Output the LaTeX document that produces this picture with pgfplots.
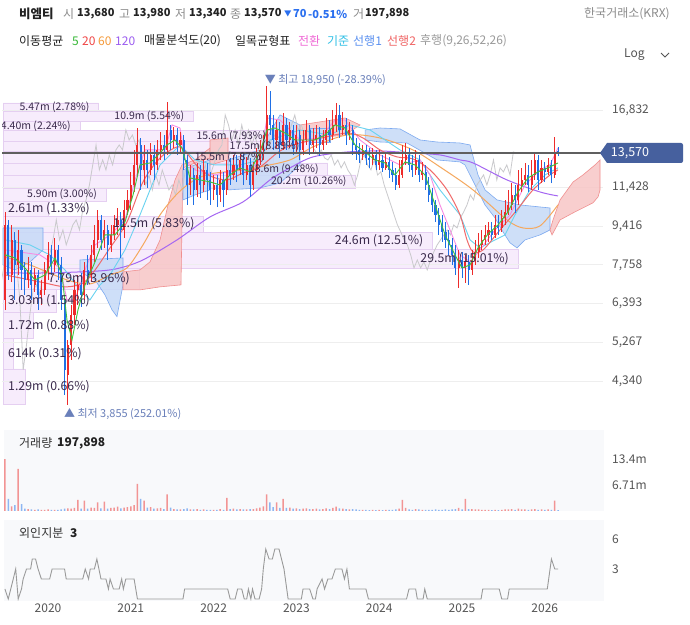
\documentclass[border=0pt]{standalone}
\usepackage{fontspec}
\setmainfont{Noto Sans CJK KR}
\usepackage{pgfplots}
\usepackage{pgfplotstable}
\pgfplotsset{compat=1.18}

\definecolor{upc}{HTML}{EE2B2B}
\definecolor{dnc}{HTML}{1F6FE5}
\definecolor{volup}{HTML}{F29494}
\definecolor{voldn}{HTML}{8DB6F2}
\definecolor{ma5}{HTML}{3CC23C}
\definecolor{ma20}{HTML}{F06A6A}
\definecolor{ma60}{HTML}{F5A85E}
\definecolor{ma120}{HTML}{A567F2}
\definecolor{conv}{HTML}{F78CE3}
\definecolor{basel}{HTML}{6AD3F0}
\definecolor{cloudb}{HTML}{C6DAF7}
\definecolor{cloudbe}{HTML}{7DAAF0}
\definecolor{cloudr}{HTML}{F7C6C6}
\definecolor{cloudre}{HTML}{F08F8F}
\definecolor{lagc}{HTML}{C9C9CC}
\definecolor{vpfill}{HTML}{F7ECFC}
\definecolor{vpedge}{HTML}{E5CFF1}
\definecolor{vptext}{HTML}{3A2A4C}
\definecolor{gridc}{HTML}{EEEEEE}
\definecolor{tickc}{HTML}{555555}
\definecolor{panelbg}{HTML}{F8F9FB}
\definecolor{curline}{HTML}{5F5F5F}
\definecolor{pricebox}{HTML}{46609E}
\definecolor{annc}{HTML}{6A80BA}
\definecolor{hdrgray}{HTML}{8C8C8C}
\definecolor{hdrdark}{HTML}{222222}
\definecolor{chgblue}{HTML}{2A6FEF}
\definecolor{forc}{HTML}{9A9A9A}

\newcommand\fs[1]{\fontsize{#1bp}{#1bp}\selectfont}

\pgfplotstableread{
x o h l c v
2019.48 6512 10110 6194 9473 13.4
2019.52 9473 9713 7200 7379 3.1
2019.56 7379 9473 7120 8789 1.2
2019.60 8789 9150 6512 7757 1.5
2019.64 7757 9239 7379 8360 10.9
2019.68 8360 8572 6846 7565 1.8
2019.72 7565 7874 6677 7196 0.6
2019.76 7196 8050 6915 7565 0.5
2019.80 7565 7874 6512 7019 0.4
2019.84 7019 7640 6780 7379 0.3
2019.88 7379 7565 6194 6677 0.4
2019.92 6677 7196 6351 6846 0.3
2019.96 6846 7874 6677 7565 0.3
2020.00 7565 8700 7196 8154 0.4
2020.04 8154 8572 7379 7757 0.3
2020.08 7757 8880 7490 8360 0.3
2020.12 8360 8572 7196 7757 0.3
2020.16 7757 8050 6194 6512 0.4
2020.20 6512 6677 4050 4589 0.6
2020.24 4476 5332 3855 5200 0.7
2020.28 5200 6351 4825 6041 0.6
2020.32 6041 7196 5747 6846 0.8
2020.36 6846 7379 6351 7019 2.9
2020.40 7019 7450 6290 6677 0.6
2020.44 6677 7874 6512 7565 2.7
2020.48 7565 8154 7019 7379 0.6
2020.52 7379 8572 7120 8154 0.9
2020.56 8154 9473 7874 8789 0.8
2020.60 8789 10211 8445 9713 2.2
2020.64 9713 9959 8360 8789 0.7
2020.68 8789 9713 8445 9239 2.4
2020.72 9239 9473 7953 8572 0.6
2020.76 8572 9473 8280 9011 0.8
2020.80 9011 9959 8789 9473 0.9
2020.84 9473 10310 9011 9713 1.1
2020.88 9713 10110 8040 9239 0.7
2020.92 9239 10734 8880 10211 0.9
2020.96 10211 11284 9959 10734 1.0
2021.00 10734 12350 10211 11570 1.2
2021.04 11570 13782 11170 12786 1.5
2021.08 12786 15380 12163 14130 7.0
2021.12 14130 14640 11284 12471 3.1
2021.16 12471 14130 11570 13110 2.7
2021.20 13110 13782 11400 12471 0.9
2021.24 12471 14270 12163 13442 1.0
2021.28 13442 14130 11863 12786 0.6
2021.32 12786 14488 12471 13782 0.7
2021.36 13782 15080 13110 14130 0.8
2021.40 14130 14854 13110 13782 0.5
2021.44 13782 17520 13442 15230 4.3
2021.48 15230 15616 13782 14488 0.9
2021.52 14488 15460 13920 14854 0.5
2021.56 14854 15380 13442 14130 0.4
2021.60 14130 15080 13570 14488 0.4
2021.64 14488 14854 12471 13110 0.5
2021.68 13110 13442 10469 11570 0.7
2021.72 11570 12786 11006 12163 0.4
2021.76 12163 12600 10469 11284 0.4
2021.80 11284 12915 10900 12163 0.5
2021.84 12163 12786 10840 11570 0.3
2021.88 11570 13110 11170 12471 0.4
2021.92 12471 12915 10734 11863 0.3
2021.96 11863 12350 10469 11284 0.3
2022.00 11284 12163 10734 11570 0.3
2022.04 11570 12163 10360 11006 0.3
2022.08 11006 12471 10630 11863 0.5
2022.12 11863 12350 10360 11284 0.3
2022.16 11284 13110 11006 12471 3.4
2022.20 12471 13240 11570 12163 0.5
2022.24 12163 13442 11863 12786 0.6
2022.28 12786 13442 11740 12471 0.4
2022.32 12471 13580 12163 13110 0.5
2022.36 13110 13580 11570 12163 0.4
2022.40 12163 13290 11863 12786 0.4
2022.44 12786 13240 10900 11570 0.5
2022.48 11570 12980 11284 12471 0.5
2022.52 12471 13920 12163 13110 0.7
2022.56 13110 14488 12786 13782 0.9
2022.60 13782 14854 13110 14130 1.2
2022.64 14130 18950 13782 16416 4.3
2022.68 16416 18500 14854 15616 2.2
2022.72 15616 16416 13782 14488 1.0
2022.76 14488 16011 13920 15230 2.2
2022.80 15230 15850 13240 14130 0.8
2022.84 14130 16580 13782 15616 3.1
2022.88 15616 16180 13782 14488 0.8
2022.92 14488 15850 13920 15230 0.9
2022.96 15230 15616 13442 14130 0.6
2023.00 14130 15616 13650 14854 0.7
2023.04 14854 15230 13110 13782 0.5
2023.08 13782 15230 13442 14488 0.6
2023.12 14488 16011 14130 15230 0.7
2023.16 15230 15616 13442 14130 0.5
2023.20 14130 15380 13650 14488 0.5
2023.24 14488 15616 13920 14854 0.6
2023.28 14854 15460 13370 14130 0.4
2023.32 14130 15230 13782 14488 0.5
2023.36 14488 16180 14130 15230 0.7
2023.40 15230 16011 14340 14854 0.5
2023.44 14854 16832 14488 15616 0.8
2023.48 15616 17430 15080 16416 1.1
2023.52 16416 17258 14640 15230 0.7
2023.56 15230 16660 14854 15616 0.6
2023.60 15616 16180 14130 14854 0.5
2023.64 14854 15850 14488 15230 0.4
2023.68 15230 15616 13442 14130 0.5
2023.72 14130 14640 13110 13782 0.4
2023.76 13782 14270 12915 13442 0.3
2023.80 13442 14130 13110 13782 0.3
2023.84 13782 14130 12786 13240 0.3
2023.88 13240 13920 12600 13110 0.2
2023.92 13110 13920 12786 13442 0.3
2023.96 13442 13782 12471 12786 0.2
2024.00 12786 13782 12471 13110 0.3
2024.04 13110 13442 12350 12600 0.2
2024.08 12600 13650 12471 12980 0.3
2024.12 12980 13310 11980 12471 0.3
2024.16 12471 12980 11740 12163 0.3
2024.20 12163 12600 11284 11570 0.4
2024.24 11570 13110 11400 12163 0.6
2024.28 12163 14130 11980 13110 2.9
2024.32 13110 14270 12786 13442 0.8
2024.36 13442 13920 12350 12786 0.4
2024.40 12786 13442 12040 12471 0.3
2024.44 12471 13782 12163 13110 0.5
2024.48 13110 13442 11740 12163 0.4
2024.52 12163 12980 11863 12350 0.3
2024.56 12350 12786 11284 11570 0.3
2024.60 11570 12040 10630 11006 0.3
2024.64 11006 11400 10110 10469 0.3
2024.68 10469 10734 9617 9959 0.4
2024.72 9959 10310 9011 9473 0.3
2024.76 9473 9959 8700 9150 0.3
2024.80 9150 9617 8445 8789 0.4
2024.84 8789 9239 8154 8572 0.3
2024.88 8572 8880 7757 8154 0.4
2024.92 8154 8572 7379 7640 0.5
2024.96 7640 8360 6915 7953 0.8
2025.00 7953 8280 7270 7640 0.4
2025.04 7640 8154 7090 7874 3.1
2025.08 7874 8154 7019 7565 0.5
2025.12 7565 8360 7379 7953 0.5
2025.16 7953 8789 7757 8280 0.4
2025.20 8280 9100 8030 8572 0.4
2025.24 8572 9239 8360 8789 0.3
2025.28 8789 9473 8572 9011 0.3
2025.32 9011 9617 8700 9239 0.3
2025.36 9239 9617 8789 9011 0.2
2025.40 9011 9959 8880 9473 0.3
2025.44 9473 9959 9011 9330 0.2
2025.48 9330 10211 9150 9810 0.3
2025.52 9810 10734 9473 10110 0.4
2025.56 10110 11284 9959 10469 0.4
2025.60 10469 11680 10211 11006 0.5
2025.64 11006 11570 10060 10734 0.3
2025.68 10734 12471 10469 11570 0.6
2025.72 11570 12600 11170 11863 0.4
2025.76 11863 12915 11570 12163 0.4
2025.80 12163 12786 11170 11570 0.3
2025.84 11570 13110 11284 12163 0.4
2025.88 12163 13580 11863 13110 0.5
2025.92 13110 13442 11284 11863 0.3
2025.96 11863 13110 11680 12600 0.4
2026.00 12600 12980 11740 12350 0.3
2026.04 12350 13240 12163 12786 0.4
2026.08 12786 13110 11680 12163 0.3
2026.12 12163 14700 11980 13640 2.7
2026.16 13680 13980 13340 13570 0.198
}\candles

\pgfplotstableread{
lo v
3855 1.29
4610 0.614
5365 1.72
6120 3.03
6874 7.79
7629 29.5
8384 24.6
9139 11.5
9894 2.61
10649 5.90
11404 20.2
12159 18.6
12914 15.5
13668 17.5
14423 15.6
15178 4.40
15933 10.9
16688 5.47
17443 0
}\vp

\tikzset{
  vplab/.style={text=vptext, inner sep=0pt},
  vpsmall/.style={vplab, font=\fs{10.5}},
  vpbig/.style={vplab, font=\fs{12.3}},
  cloudB/.style={fill=cloudb, fill opacity=0.85, draw=cloudbe, line width=0.6bp},
  cloudR/.style={fill=cloudr, fill opacity=0.85, draw=cloudre, line width=0.6bp},
  hdr/.style={anchor=west, inner sep=0pt, font=\fs{12}},
  hnum/.style={anchor=west, inner sep=0pt, font=\fs{11}\bfseries, text=hdrdark},
}

\begin{document}
\begin{tikzpicture}[x=1bp,y=1bp]
\path[use as bounding box] (0,0) rectangle (690,625);
\fill[white] (0,0) rectangle (690,625);

% header line 1
\node[hdr, text=hdrdark, font=\fs{12.5}\bfseries] at (19,611) {비엠티};
\node[hdr, text=hdrgray] at (63,611) {시};
\node[hnum] at (77,611) {13,680};
\node[hdr, text=hdrgray] at (119,611) {고};
\node[hnum] at (133,611) {13,980};
\node[hdr, text=hdrgray] at (175,611) {저};
\node[hnum] at (189,611) {13,340};
\node[hdr, text=hdrgray] at (230,611) {종};
\node[hnum] at (244,611) {13,570};
\node[hdr, text=chgblue, font=\fs{7.5}] at (284,611) {▼};
\node[hnum, text=chgblue] at (293,611) {70};
\node[hnum, text=chgblue] at (308,611) {-0.51\%};
\node[hdr, text=hdrgray] at (353,611) {거};
\node[hnum] at (365,611) {197,898};
\node[hdr, text=hdrgray] at (584,611) {한국거래소(KRX)};
% header line 2
\node[hdr, text=hdrdark] at (19,584) {이동평균};
\node[hdr, text={rgb,255:red,55;green,184;blue,55}] at (72,584) {5};
\node[hdr, text={rgb,255:red,240;green,69;blue,69}] at (82,584) {20};
\node[hdr, text={rgb,255:red,245;green,154;blue,58}] at (98,584) {60};
\node[hdr, text={rgb,255:red,155;green,92;blue,240}] at (115,584) {120};
\node[hdr, text=hdrdark] at (144,584) {매물분석도(20)};
\node[hdr, text=hdrdark] at (235,584) {일목균형표};
\node[hdr, text={rgb,255:red,240;green,106;blue,214}] at (298,584) {전환};
\node[hdr, text={rgb,255:red,48;green,192;blue,230}] at (327,584) {기준};
\node[hdr, text={rgb,255:red,90;green,144;blue,240}] at (353,584) {선행1};
\node[hdr, text={rgb,255:red,240;green,100;blue,100}] at (387,584) {선행2};
\node[hdr, text={rgb,255:red,154;green,154;blue,154}] at (420,584) {후행(9,26,52,26)};
\node[hdr, text=tickc] at (624,570) {Log};
\draw[tickc, line width=0.8bp] (661,572) -- (665,568) -- (669,572);

% volume profile bars
\begin{axis}[scale only axis, width=601bp, height=360bp, at={(2bp,200bp)}, anchor=south west,
  ymode=log, ymin=3484, ymax=21079, hide axis, xmin=-0.0573, xmax=34.364]
\addplot[xbar interval, fill=vpfill, draw=vpedge, line width=0.6bp] table[x=v, y=lo] {\vp};
\end{axis}

% price panel
\begin{axis}[scale only axis, width=601bp, height=360bp, at={(2bp,200bp)}, anchor=south west,
  ymode=log, ymin=3484, ymax=21079,
  xmin=2019.4444, xmax=2026.7029,
  axis line style={draw=none}, major tick length=0pt,
  xtick=\empty,
  ytick={4340,5267,6393,7758,9416,11428,16832},
  yticklabels={{4,340},{5,267},{6,393},{7,758},{9,416},{11,428},{16,832}},
  yticklabel pos=right,
  yticklabel style={anchor=west, inner sep=0pt, xshift=9bp, font=\fs{12}, text=tickc},
  ymajorgrids, major grid style={draw=gridc, line width=0.8bp},
]
% ichimoku clouds
\addplot[cloudB] coordinates {(2019.457,9330)(2019.940,9330)(2019.940,8360)(2019.783,7874)(2019.601,7565)(2019.457,7757)} -- cycle;
\addplot[cloudB] coordinates {(2020.386,7953)(2020.906,8030)(2020.906,7019)(2020.833,5990)(2020.773,6194)(2020.688,6677)(2020.568,7196)(2020.386,7490)} -- cycle;
\addplot[cloudR] coordinates {(2020.906,7490)(2021.111,7565)(2021.232,7874)(2021.353,8789)(2021.449,10469)(2021.534,11863)(2021.618,12786)(2021.775,13110)(2021.957,13920)(2021.957,13240)(2021.775,12915)(2021.630,12600)(2021.606,7019)(2021.353,6950)(2021.111,6846)(2020.906,6846)} -- cycle;
\addplot[cloudB] coordinates {(2021.630,12471)(2021.775,12786)(2021.957,13110)(2021.957,11284)(2021.775,11006)(2021.630,10734)} -- cycle;
\addplot[cloudR] coordinates {(2021.957,14488)(2022.174,14630)(2022.174,13110)(2021.957,12786)} -- cycle;
\addplot[cloudB] coordinates {(2022.174,13110)(2022.560,13782)(2022.802,16416)(2023.043,15616)(2023.043,12786)(2022.802,11680)(2022.560,11400)(2022.174,11284)} -- cycle;
\addplot[cloudR] coordinates {(2023.043,15616)(2023.587,16170)(2023.768,15616)(2023.587,14854)(2023.043,14488)} -- cycle;
\addplot[cloudB] coordinates {(2023.164,15380)(2023.406,15380)(2023.406,14340)(2023.164,14340)} -- cycle;
\addplot[cloudB] coordinates {(2023.829,15230)(2024.010,15380)(2024.251,15310)(2024.493,14488)(2024.698,14340)(2024.976,14270)(2025.097,14130)(2025.193,12163)(2025.278,11284)(2025.423,10734)(2025.700,10469)(2026.063,10310)(2026.063,9239)(2025.942,9011)(2025.761,8789)(2025.664,8445)(2025.580,8660)(2025.495,9150)(2025.399,9810)(2025.278,10469)(2025.157,11570)(2025.036,12786)(2024.976,12980)(2024.698,13110)(2024.336,14270)(2024.010,14340)(2023.829,14488)} -- cycle;
\addplot[cloudR] coordinates {(2026.063,9239)(2026.099,9713)(2026.184,10734)(2026.341,11740)(2026.461,12163)(2026.606,12786)(2026.667,13110)(2026.667,11284)(2026.643,10900)(2026.582,10580)(2026.341,10060)(2026.184,9713)(2026.087,9011)} -- cycle;
% lagging span
\addplot[lagc, line width=0.8bp, mark=none] table[x expr=\thisrow{x}-0.5, y=c] {\candles};
% moving averages
\addplot[ma120, line width=1bp, mark=none, smooth] coordinates {(2019.481,7453)(2020.024,7453)(2020.628,7528)(2020.870,7640)(2021.147,7953)(2021.558,8789)(2021.957,9860)(2022.355,10628)(2022.681,11863)(2022.923,12600)(2023.200,13310)(2023.611,13640)(2024.010,13710)(2024.408,13570)(2024.734,13442)(2024.976,13110)(2025.133,12915)(2025.543,11863)(2025.942,11170)(2026.159,10950)};
\addplot[ma60, line width=1bp, mark=none, smooth] coordinates {(2019.481,8073)(2019.783,7757)(2020.229,7196)(2020.507,7054)(2020.749,7379)(2020.954,7640)(2021.147,8572)(2021.353,9959)(2021.558,11060)(2021.751,11800)(2021.957,12224)(2022.355,12471)(2022.560,12660)(2022.923,13110)(2023.200,13990)(2023.611,14854)(2024.010,14630)(2024.408,13782)(2024.734,12660)(2025.133,11284)(2025.543,9713)(2025.737,9330)(2025.942,9425)(2026.159,10469)};
\addplot[basel, line width=0.9bp, mark=none] coordinates {(2019.481,8789)(2019.783,8572)(2020.024,8154)(2020.205,7565)(2020.386,6846)(2020.507,6512)(2020.628,7019)(2020.749,7379)(2020.930,8360)(2021.111,9959)(2021.353,12786)(2021.594,14130)(2021.775,13110)(2022.017,12786)(2022.319,12786)(2022.560,13110)(2022.681,14488)(2023.043,15230)(2023.406,14854)(2023.647,15616)(2023.889,15230)(2024.251,13782)(2024.493,13110)(2024.734,11284)(2024.976,9959)(2025.097,8789)(2025.217,8445)(2025.398,8789)(2025.519,9011)(2025.640,9959)(2025.821,11284)(2026.002,12163)(2026.159,12600)};
\addplot[conv, line width=0.9bp, mark=none] coordinates {(2019.481,8360)(2019.903,8154)(2020.145,7640)(2020.229,6512)(2020.326,6512)(2020.447,7565)(2020.568,8572)(2020.749,9011)(2020.930,9713)(2021.051,11863)(2021.171,13782)(2021.413,13782)(2021.498,15616)(2021.594,15380)(2021.655,13110)(2021.775,12471)(2022.017,12163)(2022.258,12471)(2022.440,12471)(2022.560,13110)(2022.645,16170)(2022.802,16011)(2023.043,14488)(2023.285,14630)(2023.466,16011)(2023.587,16011)(2023.768,14488)(2024.010,13442)(2024.251,12786)(2024.493,13110)(2024.614,12163)(2024.734,10469)(2024.855,9239)(2024.976,8154)(2025.097,7874)(2025.217,8360)(2025.398,9239)(2025.580,9959)(2025.761,11570)(2025.942,12471)(2026.063,12786)(2026.159,13920)};
\addplot[ma20, line width=1bp, mark=none, smooth] coordinates {(2019.481,7379)(2019.903,7125)(2020.229,6950)(2020.471,7196)(2020.749,8445)(2020.954,9617)(2021.147,11745)(2021.353,13240)(2021.558,13990)(2021.655,13710)(2021.800,12723)(2021.957,12100)(2022.162,11863)(2022.355,12285)(2022.560,12660)(2022.766,13570)(2022.923,14060)(2023.200,14488)(2023.611,15000)(2023.804,14630)(2024.010,13782)(2024.215,13310)(2024.408,13175)(2024.614,12471)(2024.819,11284)(2024.976,9959)(2025.060,8789)(2025.133,8280)(2025.254,8360)(2025.459,9239)(2025.664,10211)(2025.857,11284)(2026.063,12163)(2026.159,12471)};
% candles: wicks
\addplot[draw=none, mark=none, forget plot,
  restrict expr to domain={\thisrow{c}-\thisrow{o}}{0:100000},
  error bars/.cd, y dir=plus, y explicit, error mark=none,
  error bar style={draw=upc, solid, line width=0.8bp}]
  table[x=x, y=l, y error plus expr=\thisrow{h}-\thisrow{l}] {\candles};
\addplot[draw=none, mark=none, forget plot,
  restrict expr to domain={\thisrow{c}-\thisrow{o}}{-100000:0},
  error bars/.cd, y dir=plus, y explicit, error mark=none,
  error bar style={draw=dnc, solid, line width=0.8bp}]
  table[x=x, y=l, y error plus expr=\thisrow{h}-\thisrow{l}] {\candles};
% candles: bodies
\addplot[draw=none, mark=none, forget plot,
  restrict expr to domain={\thisrow{c}-\thisrow{o}}{0:100000},
  error bars/.cd, y dir=plus, y explicit, error mark=none,
  error bar style={draw=upc, solid, line width=2.1bp}]
  table[x=x, y=o, y error plus expr=\thisrow{c}-\thisrow{o}] {\candles};
\addplot[draw=none, mark=none, forget plot,
  restrict expr to domain={\thisrow{c}-\thisrow{o}}{-100000:0},
  error bars/.cd, y dir=plus, y explicit, error mark=none,
  error bar style={draw=dnc, solid, line width=2.1bp}]
  table[x=x, y=c, y error plus expr=\thisrow{o}-\thisrow{c}] {\candles};
% MA5
\addplot[ma5, line width=0.9bp, mark=none] coordinates {(2019.481,8154)(2019.601,8030)(2019.722,7640)(2019.843,7196)(2019.964,7379)(2020.085,8030)(2020.169,7379)(2020.229,5892)(2020.290,5332)(2020.362,6194)(2020.447,7019)(2020.568,7874)(2020.688,9011)(2020.809,9011)(2020.930,9617)(2021.027,11006)(2021.111,12786)(2021.232,12915)(2021.353,13570)(2021.437,14130)(2021.534,14488)(2021.618,13920)(2021.715,11980)(2021.836,11863)(2021.957,11745)(2022.077,11570)(2022.198,12163)(2022.319,12600)(2022.440,12350)(2022.560,13640)(2022.645,15230)(2022.742,15380)(2022.862,15000)(2022.983,14488)(2023.104,14488)(2023.225,14488)(2023.345,14854)(2023.466,15616)(2023.587,15380)(2023.708,14130)(2023.829,13640)(2023.949,13110)(2024.070,12915)(2024.191,12163)(2024.312,12980)(2024.432,12786)(2024.553,12163)(2024.674,10469)(2024.795,9011)(2024.915,8154)(2025.000,7640)(2025.097,7757)(2025.193,8445)(2025.314,9055)(2025.435,9473)(2025.556,10110)(2025.676,11170)(2025.797,11980)(2025.918,12350)(2026.039,12600)(2026.159,12915)};
% current price line
\addplot[curline, line width=1.8bp, mark=none] coordinates {(2019.4444,13570)(2026.7029,13570)};
% high / low notes
\node[anchor=west, inner sep=0pt, text=annc, font=\fs{11}] at (axis cs:2022.64,18950) [yshift=6bp, xshift=-2bp] {▼ 최고 18,950 (-28.39\%)};
\node[anchor=west, inner sep=0pt, text=annc, font=\fs{11}] at (axis cs:2020.24,3855) [yshift=-9bp, xshift=-4bp] {▲ 최저 3,855 (252.01\%)};
\end{axis}

% volume profile labels
\begin{axis}[scale only axis, width=601bp, height=360bp, at={(2bp,200bp)}, anchor=south west,
  ymode=log, ymin=3484, ymax=21079, hide axis, xmin=-0.0573, xmax=34.364]
\node[vpsmall, anchor=east] at (axis cs:4.955,17062) {5.47m (2.78\%)};
\node[vpsmall, anchor=east] at (axis cs:10.385,16306) {10.9m (5.54\%)};
\node[vpsmall, anchor=east] at (axis cs:3.885,15551) {4.40m (2.24\%)};
\node[vpsmall, anchor=east] at (axis cs:15.085,14795) {15.6m (7.93\%)};
\node[vpsmall, anchor=east] at (axis cs:16.985,14041) {17.5m (8.89\%)};
\node[vpsmall, anchor=east] at (axis cs:14.985,13286) {15.5m (7.87\%)};
\node[vpsmall, anchor=east] at (axis cs:18.085,12531) {18.6m (9.48\%)};
\node[vpsmall, anchor=east] at (axis cs:19.685,11777) {20.2m (10.26\%)};
\node[vpsmall, anchor=east] at (axis cs:5.385,11021) {5.90m (3.00\%)};
\node[vpbig, anchor=west] at (axis cs:0.286,10265) {2.61m (1.33\%)};
\node[vpbig, anchor=east] at (axis cs:10.985,9509) {11.5m (5.83\%)};
\node[vpbig, anchor=east] at (axis cs:24.085,8753) {24.6m (12.51\%)};
\node[vpbig, anchor=east] at (axis cs:28.985,7997) {29.5m (15.01\%)};
\node[vpbig, anchor=east] at (axis cs:7.275,7242) {7.79m (3.96\%)};
\node[vpbig, anchor=west] at (axis cs:0.286,6486) {3.03m (1.54\%)};
\node[vpbig, anchor=west] at (axis cs:0.286,5730) {1.72m (0.88\%)};
\node[vpbig, anchor=west] at (axis cs:0.286,4973) {614k (0.31\%)};
\node[vpbig, anchor=west] at (axis cs:0.286,4216) {1.29m (0.66\%)};
\end{axis}

% price tag
\fill[pricebox] (600,472) -- (607,482) -- (681,482) arc (90:0:2) -- (683,464) arc (0:-90:2) -- (607,462) -- cycle;
\node[text=white, font=\fs{12.5}, inner sep=0pt] at (630,472) {13,570};

% volume panel
\begin{axis}[scale only axis, width=600bp, height=81bp, at={(4bp,114bp)}, anchor=south west,
  xmin=2019.4686, xmax=2026.7150, ymin=0, ymax=20.9,
  axis background/.style={fill=panelbg},
  axis line style={draw=none}, major tick length=0pt, xtick=\empty,
  ytick={6.71,13.4}, yticklabels={6.71m,13.4m}, yticklabel pos=right,
  yticklabel style={anchor=west, inner sep=0pt, xshift=8bp, font=\fs{12}, text=tickc}]
\addplot[ybar, bar width=1.5bp, bar shift=0pt, fill=volup, draw=none,
  restrict expr to domain={\thisrow{c}-\thisrow{o}}{0:100000}] table[x=x, y=v] {\candles};
\addplot[ybar, bar width=1.5bp, bar shift=0pt, fill=voldn, draw=none,
  restrict expr to domain={\thisrow{c}-\thisrow{o}}{-100000:0}] table[x=x, y=v] {\candles};
\end{axis}
\node[hdr, text={rgb,255:red,51;green,51;blue,51}] at (19,182) {거래량};
\node[hnum, font=\fs{12}\bfseries] at (57,182) {197,898};

% foreign ownership panel
\begin{axis}[scale only axis, width=600bp, height=81bp, at={(4bp,24bp)}, anchor=south west,
  xmin=2019.4686, xmax=2026.7150, ymin=-0.2, ymax=7.9,
  axis background/.style={fill=panelbg},
  axis line style={draw=none}, major tick length=0pt,
  xtick={2020,2021,2022,2023,2024,2025,2026},
  xticklabels={2020,2021,2022,2023,2024,2025,2026},
  xticklabel style={anchor=north, inner sep=0pt, yshift=-3bp, font=\fs{12}, text=tickc},
  ytick={3,6}, yticklabels={3,6}, yticklabel pos=right,
  yticklabel style={anchor=west, inner sep=0pt, xshift=8bp, font=\fs{12}, text=tickc}]
\addplot[forc, line width=0.9bp, mark=none] coordinates {(2019.48,1)(2019.52,0)(2019.61,3)(2019.64,0)(2019.68,1)(2019.70,2)(2019.74,3)(2019.79,3)(2019.81,4)(2019.85,4)(2019.88,3)(2019.92,2)(2020.02,2)(2020.05,3)(2020.20,3)(2020.22,2)(2020.42,2)(2020.45,3)(2020.49,2)(2020.51,3)(2020.56,3)(2020.59,4)(2020.64,2)(2020.70,2)(2020.73,1)(2020.75,2)(2020.79,1)(2020.86,1)(2020.89,2)(2020.91,1)(2020.94,2)(2021.04,2)(2021.08,0)(2021.63,0)(2021.65,1)(2022.17,1)(2022.20,0)(2022.26,0)(2022.29,1)(2022.34,1)(2022.37,0)(2022.40,0)(2022.42,1)(2022.45,0)(2022.47,1)(2022.50,0)(2022.55,0)(2022.58,1)(2022.60,3)(2022.63,5)(2022.67,4)(2022.71,4)(2022.74,5)(2022.79,5)(2022.82,4)(2022.85,3)(2022.90,0)(2023.06,0)(2023.08,1)(2023.16,1)(2023.20,0)(2023.23,0)(2023.25,1)(2023.31,2)(2023.34,1)(2023.38,2)(2023.43,2)(2023.47,3)(2023.55,3)(2023.58,2)(2023.61,3)(2023.64,1)(2023.84,1)(2023.87,0)(2024.33,0)(2024.36,1)(2024.44,1)(2024.46,0)(2024.53,0)(2024.55,1)(2024.58,0)(2025.23,0)(2025.25,1)(2025.45,1)(2025.48,0)(2025.55,0)(2025.57,1)(2026.03,1)(2026.08,4)(2026.12,3)(2026.16,3)};
\end{axis}
\node[hdr, text={rgb,255:red,51;green,51;blue,51}] at (19,92) {외인지분};
\node[hnum, font=\fs{12}\bfseries] at (70,92) {3};
\end{tikzpicture}
\end{document}
